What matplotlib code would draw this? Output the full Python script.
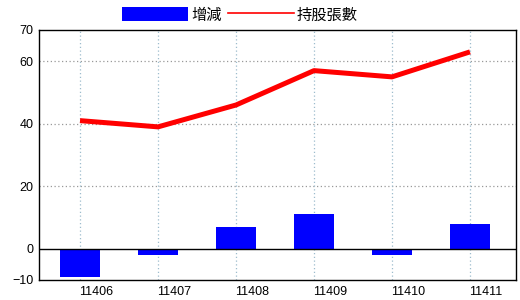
import numpy as np
import matplotlib
matplotlib.use("Agg")
import matplotlib.pyplot as plt
import matplotlib.transforms as mtransforms
from matplotlib.patches import Patch
from matplotlib.lines import Line2D

plt.rcParams['font.family'] = ['Liberation Sans', 'Noto Sans CJK TC', 'DejaVu Sans']

# data
months = ['11406', '11407', '11408', '11409', '11410', '11411']
change = [-9, -2, 7, 11, -2, 8]
holding = [41, 39, 46, 57, 55, 63]
yticks = [-10, 0, 20, 40, 60, 70]

fig = plt.figure(figsize=(5.2, 3.0), dpi=100)
ax = fig.add_axes([39 / 520, 20 / 300, 477 / 520, 250 / 300])

x = np.arange(len(months))
ax.bar(x, change, width=0.51, color='#0000ff', zorder=3)
ax.plot(x, holding, color='#ff0000', lw=3.6, solid_capstyle='butt', zorder=4)
ax.axhline(0, color='black', lw=1.0, zorder=3)

ax.set_xlim(-0.526, 5.59)
ax.set_ylim(-10, 70)
ax.set_yticks(yticks)
ax.set_xticks(x)
ax.set_xticklabels(months)

# grid: grey dotted horizontals, light blue dotted verticals
for v in [20, 40, 60]:
    ax.axhline(v, color='#999999', lw=0.9, ls=(0, (1, 2)), zorder=1)
for xi in x:
    ax.axvline(xi, color='#9dbccd', lw=0.9, ls=(0, (1, 2)), zorder=1)

ax.tick_params(length=0, labelsize=9, pad=4)
ax.tick_params(axis='y', pad=4)
offset = mtransforms.ScaledTranslation(0.16, 0, fig.dpi_scale_trans)
for lab in ax.get_xticklabels():
    lab.set_transform(lab.get_transform() + offset)

for s in ax.spines.values():
    s.set_color('black')
    s.set_linewidth(1.0)

handles = [Patch(facecolor='#0000ff', edgecolor='none'),
           Line2D([0], [0], color='#ff0000', lw=1.2)]
fig.legend(handles, ['增減', '持股張數'], loc='center', ncol=2,
           bbox_to_anchor=(240 / 520, 1 - 15 / 300), frameon=False,
           handlelength=4.3, handleheight=1.0, handletextpad=0.2,
           columnspacing=0.4, prop={'family': ['Noto Sans CJK TC'], 'size': 11})

fig.savefig('out.png', dpi=100)
